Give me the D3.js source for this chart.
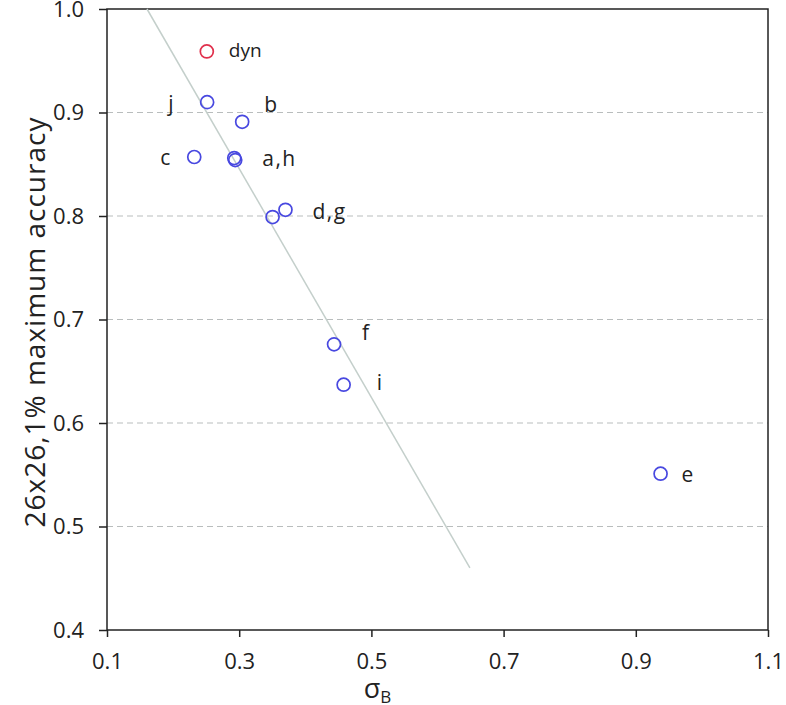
<!DOCTYPE html>
<html>
<head>
<meta charset="utf-8">
<title>sigma B vs accuracy</title>
<script src="https://cdn.jsdelivr.net/npm/d3@7"></script>
<style>
  body { margin: 0; background: #fff; }
  .axis text { font-family: "Open Sans", sans-serif; font-size: 22px; fill: #222; }
  .axis path, .axis line { stroke: #222; stroke-width: 1.5; }
  .lbl { font-family: "Open Sans", sans-serif; font-size: 21px; fill: #222; }
</style>
</head>
<body>
<script>
// point names and values
var names = ["dyn", "j", "b", "c", "a", "h", "d", "g", "f", "i", "e"];
var sigmaB = [0.251, 0.2515, 0.3045, 0.232, 0.2925, 0.294, 0.3505, 0.370, 0.4435, 0.458, 0.9375];
var accuracy = [0.959, 0.910, 0.891, 0.857, 0.856, 0.854, 0.799, 0.806, 0.676, 0.637, 0.551];
// labels drawn next to points (a,h and d,g share one label)
var labelText = ["dyn", "j", "b", "c", "a,h", "d,g", "f", "i", "e"];
var labelOf = [0, 1, 2, 3, 4, 7, 8, 9, 10];
// fitted trend line end points
var trendX = [0.1605, 0.649];
var trendY = [1.0, 0.46];
var xTicks = [0.1, 0.3, 0.5, 0.7, 0.9, 1.1];
var yTicks = [0.4, 0.5, 0.6, 0.7, 0.8, 0.9, 1.0];

var width = 786, height = 705;
var pLeft = 107, pRight = 768, pTop = 9, pBottom = 630;

var svg = d3.select("body").append("svg")
  .attr("width", width).attr("height", height);

var x = d3.scaleLinear().domain([0.1, 1.1]).range([pLeft, pRight]);
var y = d3.scaleLinear().domain([0.4, 1.0]).range([pBottom, pTop]);

// dashed grid
svg.append("g").selectAll("line")
  .data(yTicks.filter(function (d) { return d > 0.4 && d < 1.0; }))
  .enter().append("line")
  .attr("x1", pLeft).attr("x2", pRight)
  .attr("y1", function (d) { return y(d); })
  .attr("y2", function (d) { return y(d); })
  .attr("stroke", "#b9bdbd")
  .attr("stroke-width", 1.2)
  .attr("stroke-dasharray", "6,4");

// frame
svg.append("rect")
  .attr("x", pLeft).attr("y", pTop)
  .attr("width", pRight - pLeft).attr("height", pBottom - pTop)
  .attr("fill", "none").attr("stroke", "#222").attr("stroke-width", 1.5);

var xAxis = d3.axisBottom(x).tickValues(xTicks).tickSize(7).tickPadding(16)
  .tickFormat(d3.format(".1f"));
svg.append("g").attr("class", "axis")
  .attr("transform", "translate(0," + pBottom + ")")
  .call(xAxis)
  .call(function (g) { g.select(".domain").remove(); });

var yAxis = d3.axisLeft(y).tickValues(yTicks).tickSize(8).tickPadding(15)
  .tickFormat(d3.format(".1f"));
svg.append("g").attr("class", "axis")
  .attr("transform", "translate(" + pLeft + ",0)")
  .call(yAxis)
  .call(function (g) { g.select(".domain").remove(); });

// trend line
svg.append("line")
  .attr("x1", x(trendX[0])).attr("y1", y(trendY[0]))
  .attr("x2", x(trendX[1])).attr("y2", y(trendY[1]))
  .attr("stroke", "#c4cfcb").attr("stroke-width", 1.5);

// points
svg.append("g").selectAll("circle")
  .data(names)
  .enter().append("circle")
  .attr("cx", function (d, i) { return x(sigmaB[i]); })
  .attr("cy", function (d, i) { return y(accuracy[i]); })
  .attr("r", 6.5)
  .attr("fill", "none")
  .attr("stroke", function (d) { return d == "dyn" ? "#e0304c" : "#4848e0"; })
  .attr("stroke-width", 1.7);

// label offsets in pixels from their point
var dx = [22, -39, 22, -34, 28, 27, 28, 33, 21];
var dy = [6, 9, -10, 8, 8, 9, -4, 5, 8];
svg.append("g").selectAll("text")
  .data(labelText)
  .enter().append("text")
  .attr("class", "lbl")
  .attr("x", function (d, i) { return x(sigmaB[labelOf[i]]) + dx[i]; })
  .attr("y", function (d, i) { return y(accuracy[labelOf[i]]) + dy[i]; })
  .style("font-size", function (d) { return d == "dyn" ? "19px" : "21px"; })
  .style("letter-spacing", function (d) { return d.length > 1 && d != "dyn" ? "1.5px" : null; })
  .text(function (d) { return d; });

// axis titles
var xt = svg.append("text")
  .attr("x", x(0.5) + 6).attr("y", 698)
  .attr("text-anchor", "middle")
  .attr("font-family", "'Open Sans', sans-serif")
  .attr("fill", "#222");
xt.append("tspan").attr("font-size", "27px").text("σ");
xt.append("tspan").attr("font-size", "17px").attr("dy", 5).text("B");

svg.append("text")
  .attr("transform", "translate(45," + 322 + ") rotate(-90)")
  .attr("text-anchor", "middle")
  .attr("font-family", "'Open Sans', sans-serif")
  .attr("font-size", "28px")
  .attr("letter-spacing", "1px")
  .attr("fill", "#222")
  .text("26x26,1%  maximum  accuracy");
</script>
</body>
</html>
